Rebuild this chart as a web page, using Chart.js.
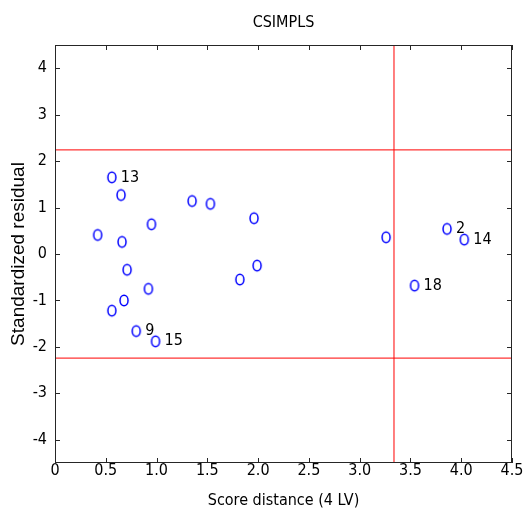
<!DOCTYPE html>
<html lang="en">
<head>
<meta charset="UTF-8">
<title>CSIMPLS</title>
<script src="https://cdn.jsdelivr.net/npm/chart.js@4.4.1/dist/chart.umd.min.js"></script>
<style>
  html, body { margin: 0; padding: 0; background: #fff; }
</style>
</head>
<body>
<canvas id="diagChart" width="524" height="513"></canvas>
<script>
  // outlier map: score distance vs standardized residual
  const chartTitle = 'CSIMPLS';
  const scoreDist = [0.56, 0.65, 0.42, 0.66, 0.95, 1.35, 1.53, 1.96, 0.71, 1.99, 1.82, 0.92, 0.68, 0.56, 0.80, 0.99, 3.26, 3.86, 4.03, 3.54];
  const stdResid  = [1.65, 1.27, 0.41, 0.26, 0.64, 1.14, 1.08, 0.77, -0.34, -0.25, -0.55, -0.75, -1.00, -1.22, -1.66, -1.88, 0.36, 0.54, 0.31, -0.68];
  const obsLabels = ['13', '', '', '', '', '', '', '', '', '', '', '', '', '', '9', '15', '', '2', '14', '18'];
  const residCutoff = 2.2414;
  const scoreCutoff = 3.338;
  const xTicks = [0, 0.5, 1, 1.5, 2, 2.5, 3, 3.5, 4, 4.5];
  const yTicks = [-4, -3, -2, -1, 0, 1, 2, 3, 4];
  const xRange = [0, 4.5];
  const yRange = [-4.5, 4.5];

  const narrow = "'Liberation Sans Narrow', 'DejaVu Sans Condensed', 'Liberation Sans', Arial, sans-serif";
  const regular = "'Liberation Sans', Arial, sans-serif";

  // hollow ellipse marker, the picture is squeezed a bit sideways
  function ellipseMarker() {
    const c = document.createElement('canvas');
    c.width = 12; c.height = 15;
    const g = c.getContext('2d');
    g.strokeStyle = '#0000ff';
    g.lineWidth = 1.5;
    g.beginPath();
    g.ellipse(6, 7.5, 4, 5.2, 0, 0, Math.PI * 2);
    g.stroke();
    return c;
  }

  const matlabFrame = {
    id: 'matlabFrame',
    afterDatasetsDraw(chart) {
      const { ctx, chartArea: a, scales: { x, y } } = chart;
      ctx.save();
      ctx.strokeStyle = '#262626';
      ctx.lineWidth = 1;
      ctx.beginPath();
      xTicks.forEach(v => {
        const px = Math.round(x.getPixelForValue(v)) + 0.5;
        ctx.moveTo(px, a.bottom); ctx.lineTo(px, a.bottom - 5);
        ctx.moveTo(px, a.top); ctx.lineTo(px, a.top + 5);
      });
      yTicks.forEach(v => {
        const py = Math.round(y.getPixelForValue(v)) + 0.5;
        ctx.moveTo(a.left, py); ctx.lineTo(a.left + 5, py);
        ctx.moveTo(a.right, py); ctx.lineTo(a.right - 5, py);
      });
      ctx.stroke();
      ctx.strokeRect(a.left + 0.5, a.top + 0.5, a.width - 1, a.height - 1);

      ctx.fillStyle = '#000';
      ctx.font = '16px ' + narrow;
      ctx.textBaseline = 'middle';
      ctx.textAlign = 'left';
      chart.getDatasetMeta(0).data.forEach((pt, i) => {
        if (obsLabels[i]) ctx.fillText(obsLabels[i], pt.x + 9, pt.y);
      });

      ctx.font = '16px ' + narrow;
      ctx.textAlign = 'center';
      ctx.fillText(chartTitle, (a.left + a.right) / 2, 23);
      ctx.restore();
    }
  };

  const ctx = document.getElementById('diagChart').getContext('2d');
  new Chart(ctx, {
    type: 'scatter',
    data: {
      datasets: [
        {
          data: scoreDist.map((v, i) => ({ x: v, y: stdResid[i] })),
          pointStyle: ellipseMarker(),
          pointRadius: 6,
          order: 0
        },
        {
          data: [{ x: xRange[0], y: residCutoff }, { x: xRange[1], y: residCutoff }],
          showLine: true, pointRadius: 0, borderColor: '#ff0000', borderWidth: 1, order: 1
        },
        {
          data: [{ x: xRange[0], y: -residCutoff }, { x: xRange[1], y: -residCutoff }],
          showLine: true, pointRadius: 0, borderColor: '#ff0000', borderWidth: 1, order: 1
        },
        {
          data: [{ x: scoreCutoff, y: yRange[0] }, { x: scoreCutoff, y: yRange[1] }],
          showLine: true, pointRadius: 0, borderColor: '#ff0000', borderWidth: 1, order: 1
        }
      ]
    },
    options: {
      responsive: false,
      animation: false,
      devicePixelRatio: 1,
      layout: { padding: { top: 45, right: 12, left: 0, bottom: 0 } },
      plugins: { legend: { display: false }, tooltip: { enabled: false } },
      scales: {
        x: {
          min: xRange[0], max: xRange[1],
          afterBuildTicks: s => { s.ticks = xTicks.map(v => ({ value: v })); },
          afterFit: s => { s.height = 50; },
          grid: { display: false, drawTicks: false },
          border: { display: false },
          ticks: { color: '#000', padding: 0, maxRotation: 0, font: { family: narrow, size: 16, lineHeight: 1 } },
          title: { display: true, text: 'Score distance (4 LV)', color: '#000', padding: { top: 0, bottom: 3 }, font: { family: narrow, size: 16 } }
        },
        y: {
          min: yRange[0], max: yRange[1],
          afterBuildTicks: s => { s.ticks = yTicks.map(v => ({ value: v })); },
          afterFit: s => { s.width = 55; },
          grid: { display: false, drawTicks: false },
          border: { display: false },
          ticks: { color: '#000', padding: 8, font: { family: narrow, size: 16 } },
          title: { display: true, text: 'Standardized residual', color: '#000', padding: { top: 7, bottom: 0 }, font: { family: regular, size: 19 } }
        }
      }
    },
    plugins: [matlabFrame]
  });
</script>
</body>
</html>
